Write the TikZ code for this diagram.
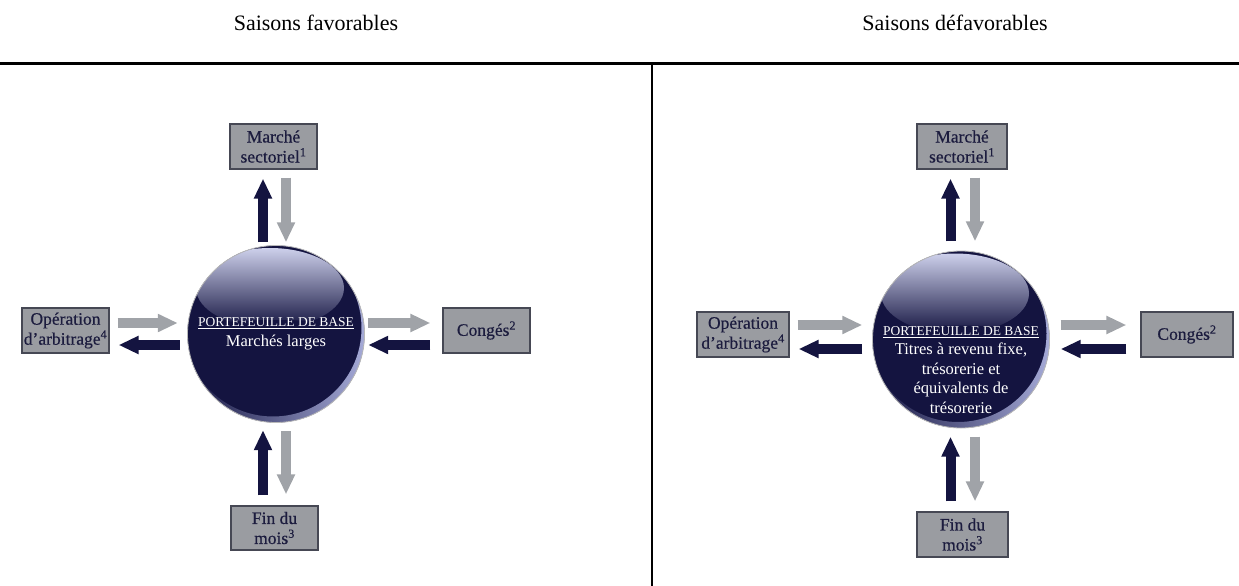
\documentclass[tikz,border=0pt]{standalone}
\usepackage{fontspec}
\setmainfont{Liberation Serif}
\newfontfamily\boxfont[FakeBold=0.5]{Liberation Serif}
\usetikzlibrary{arrows.meta,calc}
\definecolor{navy}{RGB}{20,20,64}
\definecolor{midblue}{RGB}{72,78,150}
\definecolor{arrgray}{RGB}{160,163,168}
\definecolor{boxfill}{RGB}{154,156,161}
\definecolor{boxline}{RGB}{70,72,84}
\definecolor{boxtext}{RGB}{28,28,62}
\definecolor{hilite}{RGB}{205,208,235}
\definecolor{rimlight}{RGB}{165,170,215}
\begin{document}
\begin{tikzpicture}[x=1pt,y=-1pt,
  box/.style={draw=boxline, line width=1.2pt, fill=boxfill, text=boxtext,
    align=center, inner sep=0pt, font=\boxfont\fontsize{17.5}{20}\selectfont},
  darkarr/.style={draw=navy, line width=10pt, -{Triangle[length=20pt,width=17pt]}},
  grayarr/.style={draw=arrgray, line width=10pt, -{Triangle[length=20pt,width=17pt]}},
  title/.style={font=\fontsize{22}{26}\selectfont, anchor=base},
  sphtext/.style={text=white, align=center, font=\fontsize{16.5}{19.5}\selectfont},
  ball/.style={circle, minimum size=177pt, inner sep=0pt},
  sphere/.pic={
    \fill[navy] (0,0) circle (88.5pt);
    \begin{scope}
      \clip (0,0) circle (88.5pt);
      \shade[top color=hilite, middle color=midblue, bottom color=navy]
        (-6,-46) ellipse (74pt and 40pt);
      \fill[navy] (0,-2) ellipse (90pt and 12pt);
      \shade[left color=navy, right color=rimlight, even odd rule]
        (0,0) circle (88.5pt) (-3,-6) circle (88.5pt);
    \end{scope}
    \draw[gray!55, line width=0.8pt] (0,0) circle (88.5pt);
  }]
\useasboundingbox (0,0) rectangle (1239,586);

% titles and frame
\node[title] (t1) at (316,31) {Saisons favorables};
\node[title] (t2) at (955,31) {Saisons défavorables};
\coordinate (hl) at (0,63.5);
\coordinate (hr) at (1239,63.5);
\coordinate (vt) at (652,63.5);
\coordinate (vb) at (652,586);
\draw[line width=2.5pt] (hl) -- (hr);
\draw[line width=1.3pt] (vt) -- (vb);

% ---------- left panel ----------
\node[ball] (C1) at (276,334) {};
\pic at (C1) {sphere};
\node[sphtext] (C1t) at (276,334)
  {{\fontsize{13.5}{19.5}\selectfont\underline{PORTEFEUILLE DE BASE}}\\Marchés larges};
\node[box, minimum width=87pt, minimum height=45pt] (T1) at (273.5,146.5) {Marché\\sectoriel\textsuperscript{1}};
\node[box, minimum width=87pt, minimum height=44pt] (B1) at (274.5,528) {Fin du\\mois\textsuperscript{3}};
\node[box, minimum width=87pt, minimum height=45pt] (L1) at (65.5,330.5) {Opération\\d’arbitrage\textsuperscript{4}};
\node[box, minimum width=87pt, minimum height=45pt] (R1) at (486.5,330.5) {Congés\textsuperscript{2}};

\draw[darkarr] ($(C1.north)+(-13,-3)$) -- ($(T1.south)+(-10.5,9)$);
\draw[grayarr] ($(T1.south)+(12.5,8)$) -- ($(C1.north)+(10,-3)$);
\draw[darkarr] ($(B1.north)+(-11.5,-10)$) -- ($(C1.south)+(-13,7.5)$);
\draw[grayarr] ($(C1.south)+(10,8.5)$) -- ($(B1.north)+(11.5,-11)$);
\draw[grayarr] ($(L1.east)+(8,-7.5)$) -- ($(C1.west)+(-9.5,-11)$);
\draw[darkarr] ($(C1.west)+(-7.5,11)$) -- ($(L1.east)+(9,14.5)$);
\draw[grayarr] ($(C1.east)+(3.5,-11)$) -- ($(R1.west)+(-12,-7.5)$);
\draw[darkarr] ($(R1.west)+(-12,14.5)$) -- ($(C1.east)+(3.5,11)$);

% ---------- right panel ----------
\node[ball] (C2) at (961,339.5) {};
\pic at (C2) {sphere};
\node[sphtext] (C2t) at (961,370)
  {{\fontsize{13.5}{19.5}\selectfont\underline{PORTEFEUILLE DE BASE}}\\Titres à revenu fixe,\\trésorerie et\\équivalents de\\trésorerie};
\node[box, minimum width=90pt, minimum height=45pt] (T2) at (962,146.5) {Marché\\sectoriel\textsuperscript{1}};
\node[box, minimum width=91pt, minimum height=45pt] (B2) at (962.5,534.5) {Fin du\\mois\textsuperscript{3}};
\node[box, minimum width=92pt, minimum height=45pt] (L2) at (743,334.5) {Opération\\d’arbitrage\textsuperscript{4}};
\node[box, minimum width=92pt, minimum height=45pt] (R2) at (1187,334.5) {Congés\textsuperscript{2}};

\draw[darkarr] ($(C2.north)+(-10.5,-9.5)$) -- ($(T2.south)+(-11.5,9)$);
\draw[grayarr] ($(T2.south)+(13,8)$) -- ($(C2.north)+(14,-9.5)$);
\draw[darkarr] ($(B2.north)+(-12,-10)$) -- ($(C2.south)+(-10.5,8.5)$);
\draw[grayarr] ($(C2.south)+(14,8.5)$) -- ($(B2.north)+(12.5,-10)$);
\draw[grayarr] ($(L2.east)+(8,-9.5)$) -- ($(C2.west)+(-10,-14.5)$);
\draw[darkarr] ($(C2.west)+(-10,9.5)$) -- ($(L2.east)+(9,14.5)$);
\draw[grayarr] ($(C2.east)+(11,-14.5)$) -- ($(R2.west)+(-14,-9.5)$);
\draw[darkarr] ($(R2.west)+(-14,14.5)$) -- ($(C2.east)+(11,9.5)$);
\end{tikzpicture}
\end{document}
